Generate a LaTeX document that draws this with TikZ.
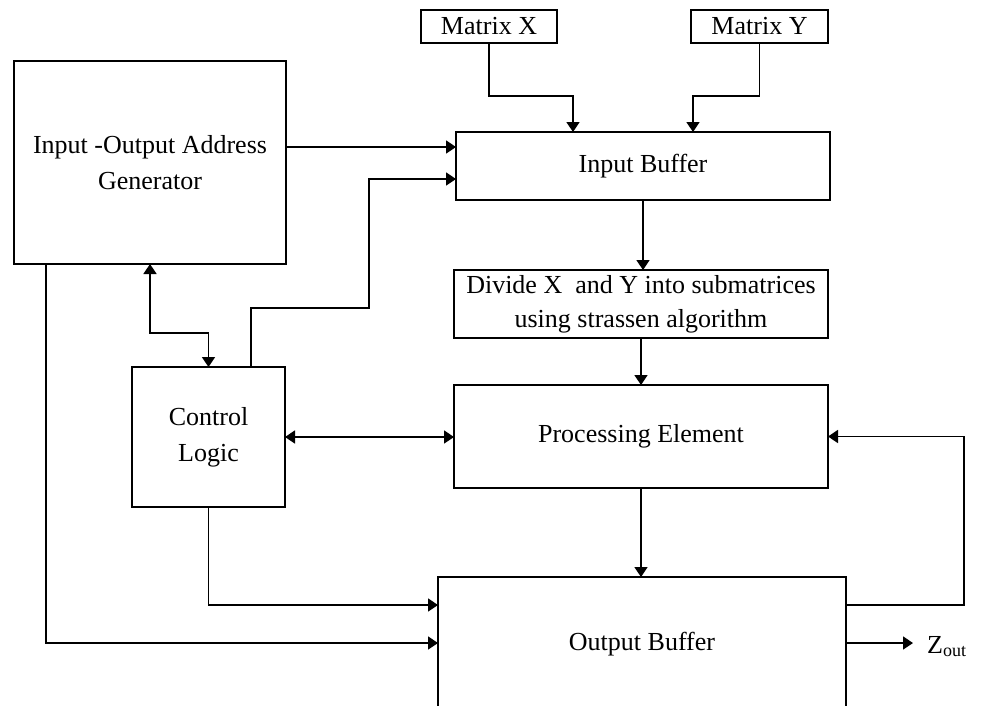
\documentclass[tikz,border=0pt]{standalone}
\usepackage{fontspec}
\setmainfont{Liberation Serif}
\usetikzlibrary{arrows.meta,calc}
\begin{document}
\begin{tikzpicture}[x=1pt,y=-1pt,
  box/.style={draw, line width=1.7pt, inner sep=0pt, outer sep=0pt, align=center, font=\fontsize{26}{36}\selectfont},
  arr/.style={line width=1.7pt, -{Triangle[length=10pt,width=13pt]}},
  biarr/.style={line width=1.7pt, {Triangle[length=10pt,width=13pt]}-{Triangle[length=10pt,width=13pt]}}]
\useasboundingbox (0,0) rectangle (981,705);
\clip (0,0) rectangle (981,705);
\fill[white] (0,0) rectangle (981,705);

\node[box, minimum width=272pt, minimum height=203pt, text depth=0pt] (io) at (150,162.5) {Input -Output Address\\Generator};
\node[box, minimum width=136pt, minimum height=33pt] (mx) at (489,26.5) {Matrix X};
\node[box, minimum width=137pt, minimum height=33pt] (my) at (759.5,26.5) {Matrix Y};
\node[box, minimum width=374pt, minimum height=68pt] (ib) at (643,166) {Input Buffer};
\node[box, minimum width=374pt, minimum height=68pt, font=\fontsize{26}{34}\selectfont] (dv) at (641,304) {Divide X\ \ and Y into submatrices\\using strassen algorithm};
\node[box, minimum width=153pt, minimum height=140pt] (cl) at (208.5,437) {Control\\Logic};
\node[box, minimum width=374pt, minimum height=103pt] (pe) at (641,436.5) {Processing Element};
\node[box, minimum width=408pt, minimum height=134pt] (ob) at (642,644) {Output Buffer};
\node[anchor=base west, inner sep=0pt, font=\fontsize{26}{30}\selectfont] (zout) at (927,653) {Z\raisebox{-3pt}{\fontsize{18}{18}\selectfont out}};

\coordinate (mxb) at (573,96);
\coordinate (myb) at (693,96);
\coordinate (r1) at (0,147);
\coordinate (r2) at (369,308);
\coordinate (r5) at (0,179);
\coordinate (c1) at (251,0);
\coordinate (c2) at (46,0);
\coordinate (r3) at (0,605);
\coordinate (r4) at (0,643);
\coordinate (fb) at (964,605);
\coordinate (zt) at (913,643);

\draw[arr] (mx.south) |- (mxb) -- (mxb |- ib.north);
\draw[arr] (my.south) |- (myb) -- (myb |- ib.north);
\draw[arr] (io.east |- r1) -- (ib.west |- r1);
\draw[arr] (cl.north -| c1) |- (r2) |- (ib.west |- r5);
\draw[biarr] (io.south) -- ++(0,69) -| (cl.north);
\draw[biarr] (cl.east) -- (cl.east -| pe.west);
\draw[arr] (ib.south) -- (ib.south |- dv.north);
\draw[arr] (dv.south) -- (pe.north);
\draw[arr] (pe.south) -- (pe.south |- ob.north);
\draw[arr] (cl.south) |- (ob.west |- r3);
\draw[arr] (io.south -| c2) |- (ob.west |- r4);
\draw[arr] (ob.east |- r3) -- (fb) |- (pe.east);
\draw[arr] (ob.east |- r4) -- (zt);
\end{tikzpicture}
\end{document}
